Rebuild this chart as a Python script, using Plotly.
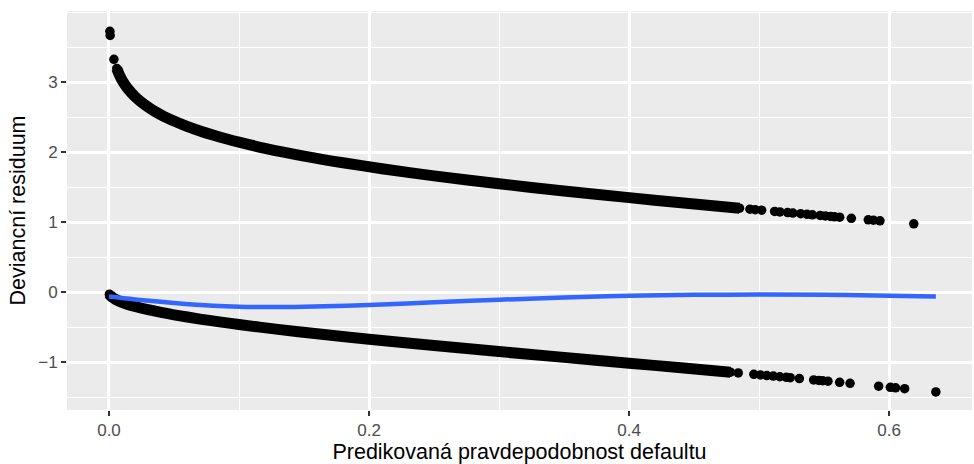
import plotly.graph_objects as go

# Dense band of observations with default = 1 (upper curve)
upper_band_p = [0.0060, 0.0075, 0.0085, 0.0100, 0.0125, 0.0150, 0.0175, 0.0200, 0.0250,
                0.0300, 0.0350, 0.0400, 0.0450, 0.0500, 0.0600, 0.0700, 0.0800, 0.0900,
                0.1000, 0.1200, 0.1500, 0.1800, 0.2100, 0.2500, 0.3000, 0.3500, 0.4000,
                0.4400, 0.4850]
upper_band_r = [3.199, 3.128, 3.088, 3.035, 2.960, 2.898, 2.845, 2.797, 2.716,
                2.648, 2.589, 2.537, 2.490, 2.448, 2.372, 2.306, 2.248, 2.195,
                2.146, 2.059, 1.948, 1.852, 1.767, 1.665, 1.552, 1.449, 1.354,
                1.281, 1.203]

# Isolated observations with default = 1
upper_pts_p = [0.0007, 0.0009, 0.0038, 0.493, 0.497, 0.502, 0.512, 0.516, 0.522, 0.526,
               0.532, 0.537, 0.541, 0.547, 0.551, 0.555, 0.558, 0.562, 0.571, 0.584,
               0.588, 0.593, 0.619]
upper_pts_r = [3.73, 3.67, 3.33, 1.189, 1.182, 1.174, 1.157, 1.150, 1.140, 1.134,
               1.124, 1.115, 1.109, 1.099, 1.092, 1.085, 1.080, 1.074, 1.059, 1.037,
               1.031, 1.022, 0.979]

# Dense band of observations with default = 0 (lower curve)
lower_band_p = [0.0003, 0.0010, 0.0020, 0.0050, 0.0100, 0.0150, 0.0200, 0.0300, 0.0400,
                0.0500, 0.0700, 0.0850, 0.1000, 0.1300, 0.1600, 0.2000, 0.2500, 0.3000,
                0.3500, 0.4000, 0.4400, 0.4780]
lower_band_r = [-0.025, -0.045, -0.063, -0.100, -0.142, -0.175, -0.201, -0.247, -0.286,
                -0.320, -0.381, -0.421, -0.459, -0.528, -0.591, -0.668, -0.759, -0.845,
                -0.928, -1.011, -1.077, -1.140]

# Isolated observations with default = 0
lower_pts_p = [0.484, 0.496, 0.501, 0.506, 0.511, 0.516, 0.521, 0.524, 0.531, 0.542,
               0.546, 0.549, 0.553, 0.562, 0.570, 0.592, 0.601, 0.605, 0.612, 0.636]
lower_pts_r = [-1.150, -1.171, -1.179, -1.188, -1.196, -1.205, -1.213, -1.218, -1.231, -1.250,
               -1.257, -1.262, -1.269, -1.285, -1.299, -1.339, -1.356, -1.363, -1.376, -1.422]

# Smoothed trend
smooth_p = [0.0, 0.02, 0.05, 0.08, 0.10, 0.12, 0.15, 0.20, 0.25, 0.30, 0.35, 0.40,
            0.45, 0.50, 0.55, 0.60, 0.636]
smooth_r = [-0.06, -0.10, -0.15, -0.19, -0.205, -0.21, -0.205, -0.18, -0.14, -0.105, -0.072,
            -0.048, -0.035, -0.031, -0.035, -0.048, -0.06]

x_ticks = [0.0, 0.2, 0.4, 0.6]
x_ticklabels = ["0.0", "0.2", "0.4", "0.6"]
y_ticks = [-1, 0, 1, 2, 3]
y_ticklabels = ["\u22121", "0", "1", "2", "3"]

fig = go.Figure()
for bp, br in [(upper_band_p, upper_band_r), (lower_band_p, lower_band_r)]:
    fig.add_trace(go.Scatter(x=bp, y=br, mode="lines+markers",
                             line=dict(color="black", width=11, shape="spline", smoothing=0.8),
                             marker=dict(color="black", size=9.5),
                             hoverinfo="skip", showlegend=False))
for pp, pr in [(upper_pts_p, upper_pts_r), (lower_pts_p, lower_pts_r)]:
    fig.add_trace(go.Scatter(x=pp, y=pr, mode="markers",
                             marker=dict(color="black", size=9.5),
                             showlegend=False))
fig.add_trace(go.Scatter(x=smooth_p, y=smooth_r, mode="lines",
                         line=dict(color="#3366FF", width=4.5, shape="spline"),
                         showlegend=False))

font_family = "Liberation Sans, Arial, sans-serif"
fig.update_layout(
    width=974, height=464,
    margin=dict(l=67, r=2, t=11, b=54),
    paper_bgcolor="white",
    plot_bgcolor="#EBEBEB",
    font=dict(family=font_family, color="black"),
    xaxis=dict(
        range=[-0.0323, 0.6638],
        tickvals=x_ticks, ticktext=x_ticklabels,
        showgrid=True, gridcolor="white", gridwidth=2.5,
        minor=dict(dtick=0.1, tick0=0, showgrid=True, gridcolor="white", gridwidth=1.2),
        zeroline=False, showline=False,
        ticks="outside", ticklen=5, tickwidth=2, tickcolor="#333333",
        tickfont=dict(size=17, color="#4D4D4D", family=font_family),
        title=dict(text="Predikovaná pravdepodobnost defaultu",
                   font=dict(size=21.5, color="black", family=font_family), standoff=4),
        automargin=False,
    ),
    yaxis=dict(
        range=[-1.68, 4.02],
        tickvals=y_ticks, ticktext=y_ticklabels,
        showgrid=True, gridcolor="white", gridwidth=2.5,
        minor=dict(dtick=0.5, tick0=0, showgrid=True, gridcolor="white", gridwidth=1.2),
        zeroline=False, showline=False,
        ticks="outside", ticklen=5, tickwidth=2, tickcolor="#333333",
        tickfont=dict(size=17, color="#4D4D4D", family=font_family),
        title=dict(text="Deviancní residuum",
                   font=dict(size=21.5, color="black", family=font_family), standoff=6),
        automargin=False,
    ),
)

fig.write_html("out.html")
